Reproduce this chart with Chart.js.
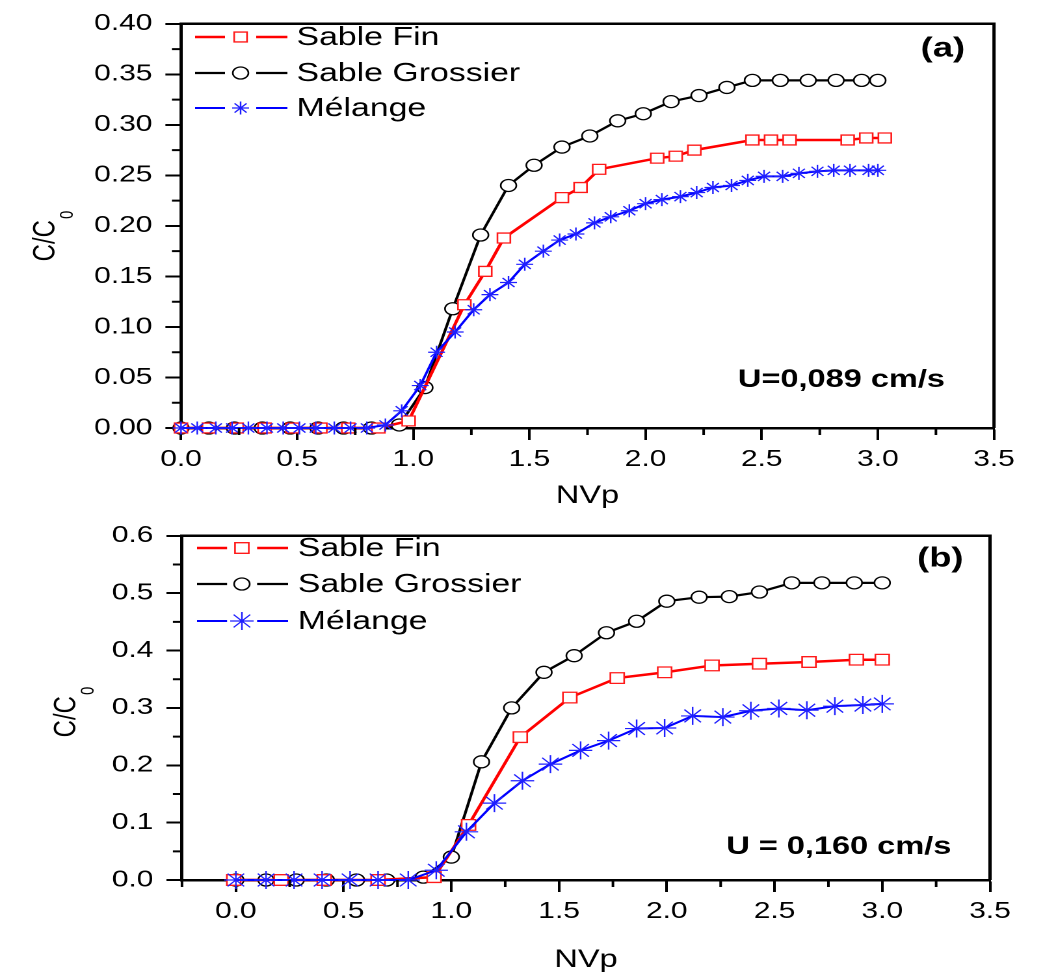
<!DOCTYPE html>
<html>
<head>
<meta charset="utf-8">
<script src="https://cdn.jsdelivr.net/npm/chart.js@4.4.1/dist/chart.umd.min.js"></script>
<style>
html, body { margin: 0; padding: 0; background: #fff; }
body { width: 1056px; height: 978px; position: relative; overflow: hidden; }
canvas { position: absolute; left: 0; }
</style>
</head>
<body>
<canvas id="chartA" width="812" height="512" style="top:0;width:1056px;height:512px"></canvas>
<canvas id="chartB" width="812" height="466" style="top:512px;width:1056px;height:466px"></canvas>
<script>
// panel (a) : U=0,089 cm/s
var aFinX = [0, 0.12, 0.24, 0.36, 0.48, 0.60, 0.72, 0.85, 0.98, 1.22, 1.31, 1.39, 1.64, 1.72, 1.80, 2.05, 2.13, 2.21, 2.46, 2.54, 2.62, 2.87, 2.95, 3.03];
var aFinY = [0, 0, 0, 0, 0, 0, 0, 0, 0.007, 0.122, 0.155, 0.188, 0.228, 0.238, 0.256, 0.267, 0.269, 0.275, 0.285, 0.285, 0.285, 0.285, 0.287, 0.287];
var aGroX = [0, 0.12, 0.23, 0.35, 0.47, 0.59, 0.70, 0.82, 0.94, 1.05, 1.17, 1.29, 1.41, 1.52, 1.64, 1.76, 1.88, 1.99, 2.11, 2.23, 2.35, 2.46, 2.58, 2.70, 2.82, 2.93, 3.00];
var aGroY = [0, 0, 0, 0, 0, 0, 0, 0, 0.003, 0.040, 0.118, 0.191, 0.240, 0.260, 0.278, 0.289, 0.304, 0.311, 0.323, 0.329, 0.337, 0.344, 0.344, 0.344, 0.344, 0.344, 0.344];
var aMelX = [0, 0.07, 0.15, 0.22, 0.29, 0.37, 0.44, 0.51, 0.58, 0.66, 0.73, 0.80, 0.88, 0.95, 1.03, 1.10, 1.18, 1.26, 1.33, 1.41, 1.48, 1.56, 1.63, 1.70,
             1.78, 1.85, 1.93, 2.00, 2.07, 2.15, 2.22, 2.29, 2.37, 2.44, 2.51, 2.59, 2.66, 2.74, 2.81, 2.88, 2.96, 3.00];
var aMelY = [0, 0, 0, 0, 0, 0, 0, 0, 0, 0, 0, 0, 0.003, 0.017, 0.042, 0.075, 0.095, 0.117, 0.132, 0.144, 0.162, 0.175, 0.186, 0.192,
             0.203, 0.209, 0.215, 0.222, 0.226, 0.229, 0.233, 0.238, 0.240, 0.245, 0.249, 0.249, 0.252, 0.254, 0.255, 0.255, 0.255, 0.255];

// panel (b) : U = 0,160 cm/s
var bFinX = [-0.01, 0.21, 0.41, 0.66, 0.92, 1.08, 1.32, 1.55, 1.77, 1.99, 2.21, 2.43, 2.66, 2.88, 3.00];
var bFinY = [0, 0, 0, 0, 0.005, 0.096, 0.249, 0.318, 0.352, 0.362, 0.374, 0.377, 0.380, 0.384, 0.384];
var bGroX = [0, 0.14, 0.28, 0.42, 0.56, 0.70, 0.87, 1.00, 1.14, 1.28, 1.43, 1.57, 1.72, 1.86, 2.00, 2.15, 2.29, 2.43, 2.58, 2.72, 2.87, 3.00];
var bGroY = [0, 0, 0, 0, 0, 0, 0.005, 0.040, 0.206, 0.300, 0.362, 0.391, 0.431, 0.451, 0.486, 0.493, 0.494, 0.502, 0.518, 0.518, 0.518, 0.518];
var bMelX = [0, 0.14, 0.27, 0.40, 0.53, 0.66, 0.80, 0.93, 1.07, 1.20, 1.33, 1.46, 1.60, 1.73, 1.86, 1.99, 2.12, 2.26, 2.39, 2.52, 2.65, 2.78, 2.91, 3.00];
var bMelY = [0, 0, 0, 0, 0, 0, 0, 0.017, 0.084, 0.134, 0.173, 0.202, 0.226, 0.243, 0.264, 0.265, 0.286, 0.284, 0.295, 0.299, 0.296, 0.303, 0.305, 0.307];

var seriesNames = ['Sable Fin', 'Sable Grossier', 'Mélange'];
var xTitle = 'NVp';
var panelLabels = ['(a)', '(b)'];
var speedLabels = ['U=0,089 cm/s', 'U = 0,160 cm/s'];

// the reference picture is stretched sideways, so draw narrow and widen with css
var S = 1056 / 812;
var FONT = '"Liberation Sans", Arial, sans-serif';
Chart.defaults.font.family = FONT;
Chart.defaults.color = '#000';

function pts(xs, ys) {
    return xs.map(function (x, i) { return { x: x, y: ys[i] }; });
}

function drawMarker(ctx, style, r, x, y, color, lw) {
    ctx.save();
    ctx.strokeStyle = color;
    ctx.fillStyle = '#fff';
    ctx.lineWidth = lw;
    ctx.beginPath();
    if (style === 'rect') {
        var s = r * Math.SQRT1_2;
        ctx.rect(x - s, y - s, 2 * s, 2 * s);
        ctx.fill();
        ctx.stroke();
    } else if (style === 'circle') {
        ctx.arc(x, y, r, 0, Math.PI * 2);
        ctx.fill();
        ctx.stroke();
    } else {
        var d = r * Math.SQRT1_2;
        ctx.moveTo(x, y - r); ctx.lineTo(x, y + r);
        ctx.moveTo(x - r, y); ctx.lineTo(x + r, y);
        ctx.moveTo(x - d, y - d); ctx.lineTo(x + d, y + d);
        ctx.moveTo(x - d, y + d); ctx.lineTo(x + d, y - d);
        ctx.stroke();
    }
    ctx.restore();
}

var framePlugin = {
    id: 'frame',
    afterDraw: function (chart, args, o) {
        var ctx = chart.ctx, a = chart.chartArea;
        var xs = chart.scales.x, ys = chart.scales.y;
        ctx.save();
        ctx.strokeStyle = '#000';
        ctx.lineWidth = 2.5;
        ctx.beginPath();
        ctx.moveTo(a.left, a.top);
        ctx.lineTo(a.right, a.top);
        ctx.lineTo(a.right, a.bottom);
        ctx.stroke();

        // minor ticks
        ctx.lineWidth = 2;
        ctx.beginPath();
        for (var v = o.xMinorStart; v < o.xMax; v += o.xMajor) {
            var px = xs.getPixelForValue(v);
            ctx.moveTo(px, a.bottom); ctx.lineTo(px, a.bottom + 7);
        }
        for (var w = o.yMinor; w < o.yMax; w += 2 * o.yMinor) {
            var py = ys.getPixelForValue(w);
            ctx.moveTo(a.left, py); ctx.lineTo(a.left - 7, py);
        }
        ctx.stroke();

        // y title C/C0 with subscript
        ctx.save();
        ctx.translate(o.yTitleX, o.yTitleY);
        ctx.rotate(-Math.PI / 2);
        ctx.fillStyle = '#000';
        ctx.font = '24px ' + FONT;
        var w1 = ctx.measureText('C/C').width;
        ctx.font = '15px ' + FONT;
        var w2 = ctx.measureText('0').width;
        var start = -(w1 + w2 + 1) / 2;
        ctx.textBaseline = 'alphabetic';
        ctx.textAlign = 'left';
        ctx.font = '24px ' + FONT;
        ctx.fillText('C/C', start, 0);
        ctx.font = '15px ' + FONT;
        ctx.fillText('0', start + w1 + 1, 14);
        ctx.restore();

        // legend: line - marker - line, text
        chart.data.datasets.forEach(function (ds, i) {
            var y = o.legendY[i];
            ctx.strokeStyle = ds.borderColor;
            ctx.lineWidth = ds.borderWidth;
            ctx.beginPath();
            ctx.moveTo(o.legendX[0], y); ctx.lineTo(o.legendX[1], y);
            ctx.moveTo(o.legendX[3], y); ctx.lineTo(o.legendX[4], y);
            ctx.stroke();
            drawMarker(ctx, ds.pointStyle, ds.pointRadius, o.legendX[2], y, ds.pointBorderColor, ds.pointBorderWidth);
            ctx.fillStyle = '#000';
            ctx.font = '26px ' + FONT;
            ctx.textAlign = 'left';
            ctx.textBaseline = 'middle';
            ctx.fillText(ds.label, o.legendX[5], y + 1);
        });

        // panel letter and speed
        ctx.fillStyle = '#000';
        ctx.textAlign = 'center';
        ctx.textBaseline = 'middle';
        ctx.font = 'bold 28px ' + FONT;
        ctx.fillText(o.letter, o.letterPos[0], o.letterPos[1]);
        ctx.font = 'bold 25px ' + FONT;
        ctx.fillText(o.speed, o.speedPos[0], o.speedPos[1]);
        ctx.restore();
    }
};

function makePanel(id, p) {
    var datasets = [
        {
            label: seriesNames[0], data: pts(p.finX, p.finY), order: 1,
            borderColor: '#ff0000', borderWidth: 2.5, pointStyle: 'rect', pointRadius: p.rectR,
            pointBorderColor: '#ff1a1a', pointBackgroundColor: '#fff', pointBorderWidth: 1.3
        },
        {
            label: seriesNames[1], data: pts(p.groX, p.groY), order: 2,
            borderColor: '#000000', borderWidth: 2.2, pointStyle: 'circle', pointRadius: p.circR,
            pointBorderColor: '#000', pointBackgroundColor: '#fff', pointBorderWidth: 1.3
        },
        {
            label: seriesNames[2], data: pts(p.melX, p.melY), order: 0,
            borderColor: '#0000ff', borderWidth: 2, pointStyle: 'star', pointRadius: p.starR,
            pointBorderColor: '#1f1fff', pointBackgroundColor: '#fff', pointBorderWidth: 1.2
        }
    ];
    datasets.forEach(function (d) { d.showLine = true; d.clip = false; d.pointHoverRadius = d.pointRadius; });

    return new Chart(document.getElementById(id), {
        type: 'scatter',
        data: { datasets: datasets },
        options: {
            responsive: false,
            devicePixelRatio: 2,
            animation: false,
            events: [],
            layout: { padding: { top: p.top, right: p.right, left: 0, bottom: 0 } },
            plugins: {
                legend: { display: false },
                tooltip: { enabled: false },
                frame: p.frame
            },
            scales: {
                x: {
                    type: 'linear',
                    min: p.xMin, max: 3.5,
                    afterFit: function (s) { s.height = p.xHeight; },
                    border: { color: '#000', width: 2.5 },
                    grid: { drawOnChartArea: false, tickLength: 12, tickWidth: 2, tickColor: '#000' },
                    ticks: {
                        stepSize: 0.5, includeBounds: false, padding: 6, maxRotation: 0,
                        font: { size: 23 }, color: '#000',
                        callback: function (v) { return v.toFixed(1); }
                    },
                    title: { display: true, text: xTitle, font: { size: 25 }, color: '#000', padding: { top: 0, bottom: p.xTitlePad } }
                },
                y: {
                    type: 'linear',
                    min: 0, max: p.yMax,
                    afterFit: function (s) { s.width = p.left; },
                    border: { color: '#000', width: 2.5 },
                    grid: { drawOnChartArea: false, tickLength: 12, tickWidth: 2, tickColor: '#000' },
                    ticks: {
                        stepSize: p.yStep, padding: 10, font: { size: 23 }, color: '#000',
                        callback: function (v) { return v.toFixed(p.yDigits); }
                    }
                }
            }
        },
        plugins: [framePlugin]
    });
}

makePanel('chartA', {
    finX: aFinX, finY: aFinY, groX: aGroX, groY: aGroY, melX: aMelX, melY: aMelY,
    rectR: 7, circR: 6, starR: 6.5,
    top: 20, right: 812 - 994 / S, left: 181 / S, xHeight: 512 - 428, xTitlePad: 1,
    xMin: 0, yMax: 0.40, yStep: 0.05, yDigits: 2,
    frame: {
        xMinorStart: 0.25, xMajor: 0.5, xMax: 3.5, yMinor: 0.025, yMax: 0.40,
        yTitleX: 42, yTitleY: 236,
        legendY: [37, 73, 108],
        legendX: [150, 173, 185, 197, 221, 228],
        letter: panelLabels[0], letterPos: [725, 49],
        speed: speedLabels[0], speedPos: [647, 380]
    }
});

makePanel('chartB', {
    finX: bFinX, finY: bFinY, groX: bGroX, groY: bGroY, melX: bMelX, melY: bMelY,
    rectR: 7.5, circR: 6, starR: 9,
    top: 10, right: 812 - 990 / S, left: 182 / S, xHeight: 466 - 368, xTitlePad: 3,
    xMin: -0.25, yMax: 0.6, yStep: 0.1, yDigits: 1,
    frame: {
        xMinorStart: -0.25, xMajor: 0.5, xMax: 3.5, yMinor: 0.05, yMax: 0.6,
        yTitleX: 58, yTitleY: 200,
        legendY: [36, 72, 109],
        legendX: [151.5, 174.6, 186, 197.7, 221.5, 229],
        letter: panelLabels[1], letterPos: [723, 47],
        speed: speedLabels[1], speedPos: [645, 335]
    }
});
</script>
</body>
</html>
